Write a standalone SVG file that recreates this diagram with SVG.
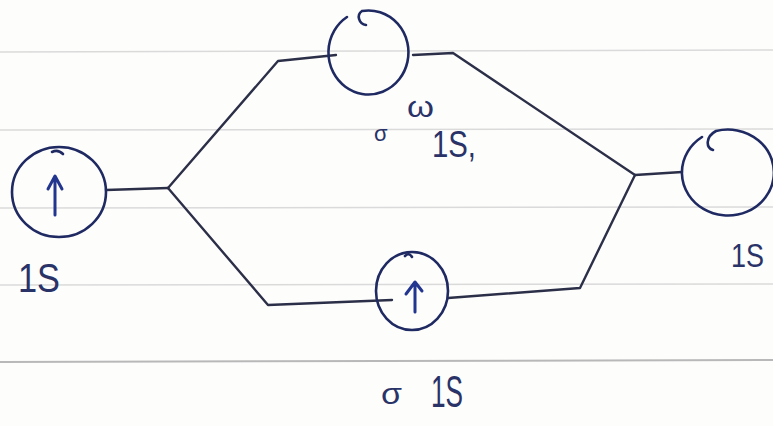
<svg xmlns="http://www.w3.org/2000/svg" width="773" height="426" viewBox="0 0 773 426">
<style>
.paper{stroke:#dadada;stroke-width:1.5;fill:none}
.paper2{stroke:#b8b8b8;stroke-width:2;fill:none}
.wire{stroke:#2c2f48;stroke-width:2.4;fill:none;stroke-linejoin:round;stroke-linecap:round}
.ring{stroke:#1f2a62;stroke-width:2.6;fill:none;stroke-linecap:round}
.arr{stroke:#22358f;stroke-width:3;fill:none;stroke-linecap:round;stroke-linejoin:round}
.lbl{font-family:"Liberation Sans",Arial,sans-serif;fill:#2a3368}
</style>
<rect width="773" height="426" fill="#fdfdfc"/>
<g id="paper">
<line class="paper" x1="0" y1="52" x2="773" y2="50"/>
<line class="paper" x1="0" y1="130" x2="773" y2="129"/>
<line class="paper" x1="0" y1="208" x2="773" y2="207"/>
<line class="paper" x1="0" y1="285" x2="773" y2="284"/>
<line class="paper2" x1="0" y1="362" x2="773" y2="360"/>
</g>
<g id="connectors">
<path class="wire" d="M106,190 L168,188"/>
<path class="wire" d="M168,188 L278,61 L336,55"/>
<path class="wire" d="M168,188 L268,305 L392,300"/>
<path class="wire" d="M413,55 L453,53 L635,175"/>
<path class="wire" d="M448,298 L580,288 L635,175"/>
<path class="wire" d="M635,175 L682,172"/>
</g>
<g id="node-left">
<ellipse class="ring" cx="59" cy="192" rx="47" ry="45"/>
<path class="ring" d="M52,152 Q58,149 63,154" stroke-width="1.5"/>
<path class="arr" d="M55,215 L55,178 M48,189 L55,176 L62,189"/>
<text class="lbl" x="18" y="292" font-size="40" textLength="42" lengthAdjust="spacingAndGlyphs">1S</text>
</g>
<g id="node-top">
<path class="ring" d="M366,25 C359,24 356,15 362,11 A40 42 0 1 1 347,17"/>
<text class="lbl" x="374" y="141" font-size="22">σ</text>
<text class="lbl" x="407" y="117" font-size="30" textLength="27" lengthAdjust="spacingAndGlyphs">ω</text>
<text class="lbl" x="432" y="157" font-size="36" textLength="44" lengthAdjust="spacingAndGlyphs">1S,</text>
</g>
<g id="node-right">
<path class="ring" d="M713,150 C706,148 705,137 716,131 A46 43 0 1 1 702,137"/>
<text class="lbl" x="731" y="267" font-size="34" textLength="33" lengthAdjust="spacingAndGlyphs">1S</text>
</g>
<g id="node-bottom">
<ellipse class="ring" cx="412" cy="291" rx="36" ry="39"/>
<path class="ring" d="M405,256 Q409,252 412,257" stroke-width="1.5"/>
<path class="arr" d="M415,312 L415,283 M406,294 L415,282 L422,291"/>
<text class="lbl" x="381" y="404" font-size="30" textLength="21" lengthAdjust="spacingAndGlyphs">σ</text>
<text class="lbl" x="431" y="407" font-size="44" textLength="32" lengthAdjust="spacingAndGlyphs">1S</text>
</g>
</svg>
